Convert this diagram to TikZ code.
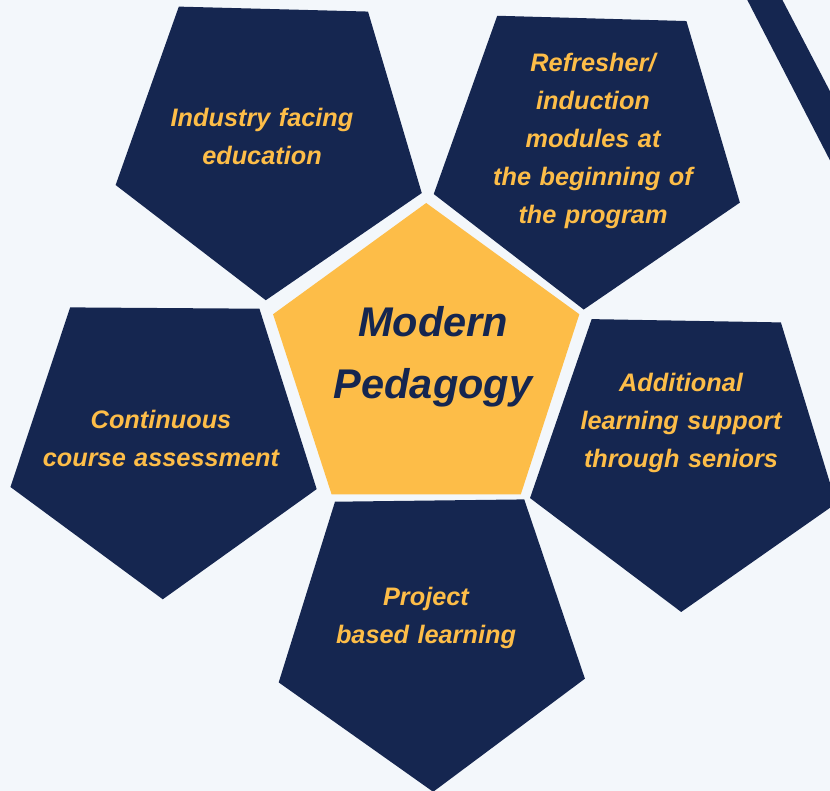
\documentclass[tikz,border=0pt]{standalone}
\usepackage{fontspec}
\setmainfont{Liberation Sans}
\usepackage{tikz}
\usetikzlibrary{shapes.geometric}
\definecolor{navy}{HTML}{152650}
\definecolor{gold}{HTML}{FDBD48}
\definecolor{paper}{HTML}{F3F7FB}

\begin{document}
\begin{tikzpicture}[x=1pt,y=-1pt]
  \def\R{322pt}
  \tikzset{petal/.style={regular polygon,regular polygon sides=5,shape border rotate=180,minimum size=\R,inner sep=0pt,fill=navy}}
  \tikzset{core/.style={regular polygon,regular polygon sides=5,minimum size=\R,inner sep=0pt,fill=gold}}
  \tikzset{petaltext/.style={anchor=base,text width=300pt,align=center,inner sep=0pt,text=gold,font=\fontsize{25.3}{38}\selectfont\bfseries\itshape}}
  \tikzset{coretext/.style={anchor=base,text width=300pt,align=center,inner sep=0pt,text=navy,font=\fontsize{41.5}{61.6}\selectfont\bfseries\itshape}}
  \fill[paper] (0,0) rectangle (830,791);
  \useasboundingbox (0,0) rectangle (830,791);
  \clip (0,0) rectangle (830,791);
  \fill[navy] (737,-20) -- (772,-20) -- (870,168) -- (870,238) -- cycle;
  \node[core] (hub) at (426.2,364) {};
  \node[petal,rotate=-1.5] (ind) at (270,139.3) {};
  \node[petal,rotate=-1.6] (ref) at (588.2,148.6) {};
  \node[petal,rotate=-0.4] (cont) at (163.9,438.3) {};
  \node[petal,rotate=-1] (add) at (684,451) {};
  \node[petal,rotate=0.7] (proj) at (431.2,630.8) {};
  \node[coretext] (hubtext) at (433,336.7) {Modern\\Pedagogy};
  \node[petaltext] (indtext) at (262,126.7) {Industry facing\\education};
  \node[petaltext] (reftext) at (593,71.7) {Refresher/\\induction\\modules at\\the beginning of\\the program};
  \node[petaltext] (conttext) at (161,428.3) {Continuous\\course assessment};
  \node[petaltext] (addtext) at (681,391.7) {Additional\\learning support\\through seniors};
  \node[petaltext] (projtext) at (426,605) {Project\\based learning};
\end{tikzpicture}
\end{document}
